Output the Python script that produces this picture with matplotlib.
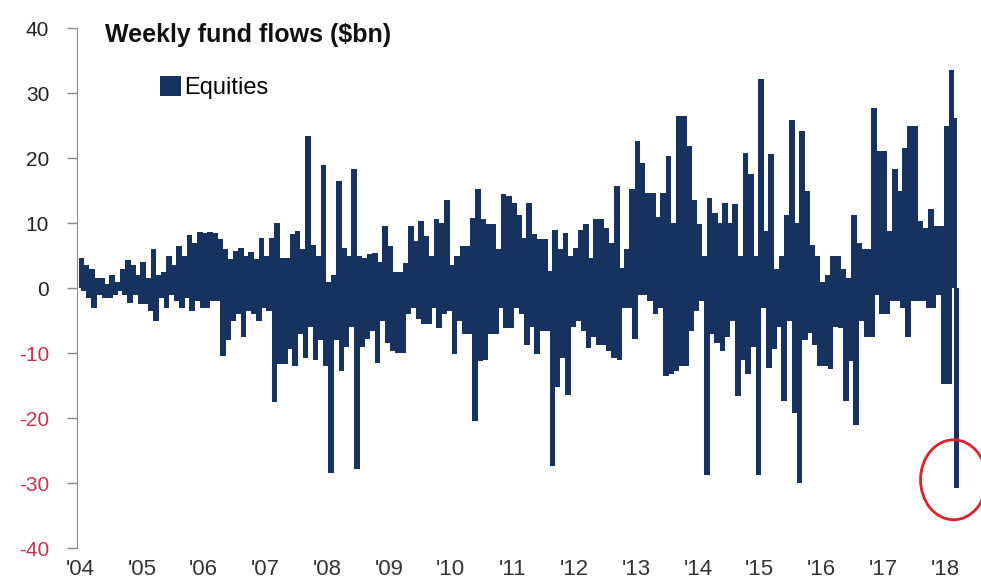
import matplotlib
matplotlib.use("Agg")
import matplotlib.pyplot as plt
from matplotlib.patches import Ellipse
import numpy as np

# semi-monthly envelope of the weekly equity flows ($bn)
# each year: 12 pairs of (inflow peak, outflow trough)
flows_2004 = [4.7, -0.5, 3.5, -1.5, 3, -3, 1.5, -1, 1.6, -1.5, 0.6, -1.5,
              2, -1, 1, -0.5, 3, -1, 4.3, -2.3, 3.5, -1, 2, -2.5]
flows_2005 = [4, -2.5, 1.5, -3.5, 6, -5, 2, -1.5, 2.5, -3, 5, -1,
              3.5, -2, 6.5, -3, 5, -1.5, 8.2, -3.5, 7, -2, 8.7, -3]
flows_2006 = [8.5, -3, 8.7, -2, 8.5, -2, 7.5, -10.5, 6, -8, 4.4, -5,
              5.7, -4, 6.2, -7.6, 5, -3.5, 5.5, -4, 4.5, -5, 7.7, -3]
flows_2007 = [5, -3.5, 7.7, -17.6, 10, -11.7, 4.7, -11.7, 4.7, -9.4, 8.3, -12,
              8.8, -7, 6, -10.7, 23.4, -6, 6.7, -11, 5, -8, 19, -12]
flows_2008 = [1, -28.4, 2, -8, 16.5, -12.8, 6.2, -9, 5, -6, 18.3, -27.9,
              5, -9, 4.7, -7.9, 5.2, -6.6, 5.4, -11.5, 4, -5, 9.5, -8.4]
flows_2009 = [6.5, -9.7, 2.4, -10, 2.4, -10, 3.9, -4, 9.5, -3, 7.2, -4.8,
              10.3, -5.6, 8, -5.6, 5, -3, 10.6, -6.1, 10, -4, 13.5, -3.5]
flows_2010 = [3.6, -10.2, 5, -5, 6.5, -7, 6.5, -7, 10.8, -20.5, 15.2, -11.2,
              10.6, -11, 9.8, -7, 9.8, -7, 6, -3, 14.4, -6.1, 14.2, -6.1]
flows_2011 = [13.1, -3, 11.3, -4, 7.7, -8.7, 13.1, -6, 8.3, -10.2, 7.5, -6.6,
              7.5, -6.6, 2.6, -27.4, 9, -15.3, 6, -10.7, 8.5, -16.4, 5, -6]
flows_2012 = [6.2, -5, 9, -6.6, 9.8, -9.2, 4.7, -7.6, 10.6, -8.7, 10.6, -8.7,
              9.3, -9.7, 7, -10.7, 15.7, -11, 3.1, -3, 6, -3, 15.2, -7.9]
flows_2013 = [22.6, -1, 19.3, -1, 14.7, -2, 14.7, -4, 11, -3, 14.7, -13.5,
              20.3, -13.3, 10, -12.8, 26.5, -12, 26.5, -12, 21.8, -6.6, 13.6, -3.5]
flows_2014 = [9.8, -2, 5, -28.7, 13.9, -7, 11.6, -8.4, 10, -9.7, 13.1, -7.6,
              10, -5, 12.9, -16.6, 5, -11, 20.8, -13.3, 17.5, -9, 5, -28.7]
flows_2015 = [32.1, -3, 8.8, -12.3, 20.6, -9.4, 3, -6, 5, -17.4, 11.3, -5,
              25.9, -19.2, 10, -30, 24.2, -8, 14.9, -6.9, 6.7, -8.7, 5, -12]
flows_2016 = [1, -12, 2, -12.5, 4.9, -6, 4.9, -6.1, 3, -17.4, 1.6, -11.2,
              11.3, -21, 7, -5, 6, -7.6, 6, -7.6, 27.7, -1, 21.1, -4]
flows_2017 = [21.1, -4, 8.8, -2, 18.3, -2, 14.9, -3, 21.6, -7.6, 24.9, -2,
              24.9, -2, 10.3, -2, 9.3, -3, 12.1, -3, 9.5, -1, 9.5, -14.8]
flows_2018 = [24.9, -14.8, 33.6, 26.2, -30.7]

years = list(range(2004, 2019))
year_labels = ["'" + str(y)[2:] for y in years]
y_ticks = [-40, -30, -20, -10, 0, 10, 20, 30, 40]

flows = np.array(flows_2004 + flows_2005 + flows_2006 + flows_2007 + flows_2008
                 + flows_2009 + flows_2010 + flows_2011 + flows_2012 + flows_2013
                 + flows_2014 + flows_2015 + flows_2016 + flows_2017 + flows_2018)
# semi-monthly positions in fractional years
x = 2004 + (np.arange(len(flows)) + 0.5) / 24

navy = "#17325e"
red_lbl = "#c8324b"
font = ["Liberation Sans", "DejaVu Sans"]

fig = plt.figure(figsize=(9.81, 5.85), dpi=100)
ax = fig.add_axes([0.0785, 0.0632, 0.9, 0.8888])

# wide overlapping bars, like the dense weekly bars of the original
ax.bar(x, flows, width=2.2 / 24, color=navy, linewidth=0, label="Equities")

ax.set_xlim(2003.95, 2018.24)
ax.set_ylim(-40, 40)

ax.set_yticks(y_ticks)
ax.set_yticklabels([str(v) for v in y_ticks], fontsize=15, family=font)
for lbl, v in zip(ax.get_yticklabels(), y_ticks):
    lbl.set_color(red_lbl if v < 0 else "#222222")
ax.tick_params(axis="y", length=7, width=1, color="#888888", pad=13)

ax.set_xticks(years)
ax.set_xticklabels(year_labels, fontsize=16, color="#333333", family=font)
ax.tick_params(axis="x", length=0, pad=8)

for s in ["top", "right", "bottom"]:
    ax.spines[s].set_visible(False)
ax.spines["left"].set_color("#888888")

ax.text(0.032, 0.987, "Weekly fund flows (\\$bn)", transform=ax.transAxes,
        fontsize=18, fontweight="bold", color="#111111", va="center",
        family=font)

ax.legend(loc="center left", bbox_to_anchor=(0.07, 0.885), frameon=False,
          handlelength=0.9, handleheight=0.9, handletextpad=0.1,
          prop={"family": font, "size": 17})

# red circle round the latest outflow
ring = Ellipse((x[-1] - 0.05, flows[-1] + 1.2), width=1.07, height=12.3,
               fill=False, edgecolor="#e0202a", linewidth=2, clip_on=False)
ax.add_patch(ring)

fig.savefig("out.png", dpi=100)
